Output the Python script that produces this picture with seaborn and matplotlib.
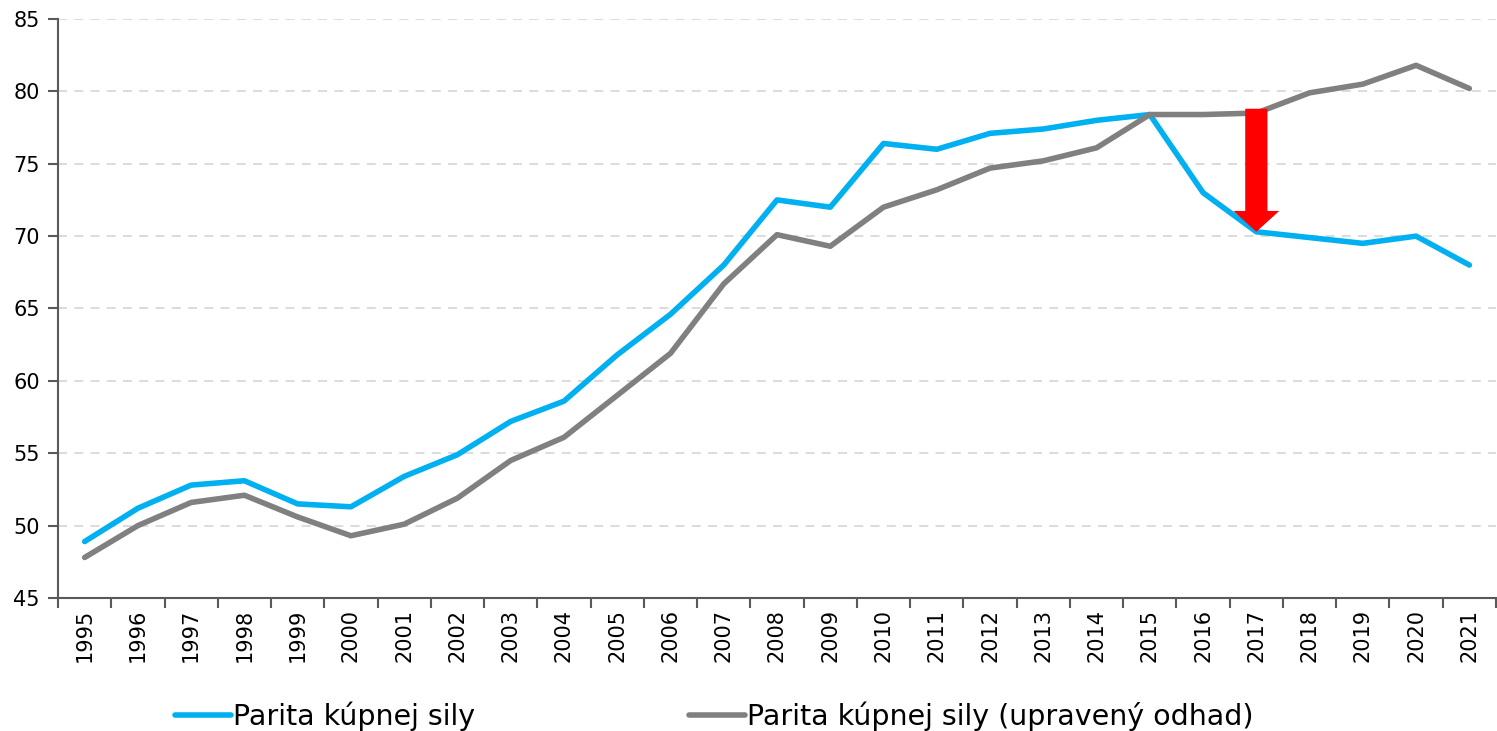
import matplotlib
matplotlib.use("Agg")
import matplotlib.pyplot as plt
import numpy as np
import pandas as pd
import seaborn as sns

years = [str(y) for y in range(1995, 2022)]
ppp = [48.9, 51.2, 52.8, 53.1, 51.5, 51.3, 53.4, 54.9, 57.2, 58.6, 61.8, 64.6, 68.0,
       72.5, 72.0, 76.4, 76.0, 77.1, 77.4, 78.0, 78.4, 73.0, 70.3, 69.9, 69.5, 70.0, 68.0]
ppp_adj = [47.8, 50.0, 51.6, 52.1, 50.6, 49.3, 50.1, 51.9, 54.5, 56.1, 59.0, 61.9, 66.7,
           70.1, 69.3, 72.0, 73.2, 74.7, 75.2, 76.1, 78.4, 78.4, 78.5, 79.9, 80.5, 81.8, 80.2]
series_names = ["Parita kúpnej sily", "Parita kúpnej sily (upravený odhad)"]
colors = ["#00B0F0", "#808080"]

arrow_year = "2017"
arrow_top = 78.8

sns.set_style("white")
plt.rcParams["font.family"] = ["DejaVu Sans"]
plt.rcParams["text.color"] = "black"

df = pd.DataFrame({
    "pos": list(range(len(years))) * 2,
    "value": ppp + ppp_adj,
    "series": [series_names[0]] * len(years) + [series_names[1]] * len(years),
})

fig = plt.figure(figsize=(14.97, 7.31), dpi=100)
ax = fig.add_axes([58 / 1497, 1 - 598 / 731, 1 - 59 / 1497, (598 - 19) / 731])

sns.lineplot(data=df, x="pos", y="value", hue="series", palette=colors,
             linewidth=4.0, ax=ax, legend=False, zorder=3)

# red arrow marking the drop in 2017
i = years.index(arrow_year)
ax.annotate("", xy=(i, ppp[i]), xytext=(i, arrow_top),
            arrowprops=dict(arrowstyle="simple,head_width=3.3,head_length=1.5,tail_width=1.6",
                            mutation_scale=10, color="#FF0000", lw=0,
                            shrinkA=0, shrinkB=0),
            zorder=5)

ax.set_xlim(-0.5, len(years) - 0.5)
ax.set_ylim(45, 85)
ax.set_yticks(np.arange(45, 86, 5))
ax.set_xticks(range(len(years)))
ax.set_xticklabels(years, rotation=90)
ax.set_xticks(np.arange(-0.5, len(years), 1), minor=True)
ax.tick_params(axis="x", which="major", bottom=True, length=0, labelsize=15,
               labelcolor="black", pad=8)
ax.tick_params(axis="x", which="minor", bottom=True, length=7, width=1.5, color="#595959")
ax.tick_params(axis="y", left=True, length=7, width=1.5, color="#595959", labelsize=15,
               labelcolor="black", pad=6)
ax.set_xlabel("")
ax.set_ylabel("")

ax.yaxis.grid(True, linestyle=(0, (5, 4)), color="#D9D9D9", linewidth=1.3)
ax.set_axisbelow(True)
for s in ["top", "right"]:
    ax.spines[s].set_visible(False)
for s in ["left", "bottom"]:
    ax.spines[s].set_color("#595959")
    ax.spines[s].set_linewidth(1.5)

handles = [plt.Line2D([], [], color=c, linewidth=4.0, solid_capstyle="round") for c in colors]
fig.legend(handles, series_names, loc="center left", bbox_to_anchor=(175 / 1497, 1 - 716 / 731),
           ncol=2, frameon=False, fontsize=20.5, handlelength=1.95, handletextpad=0.1,
           columnspacing=7.5, borderpad=0, borderaxespad=0)

fig.savefig("out.png", dpi=100)
